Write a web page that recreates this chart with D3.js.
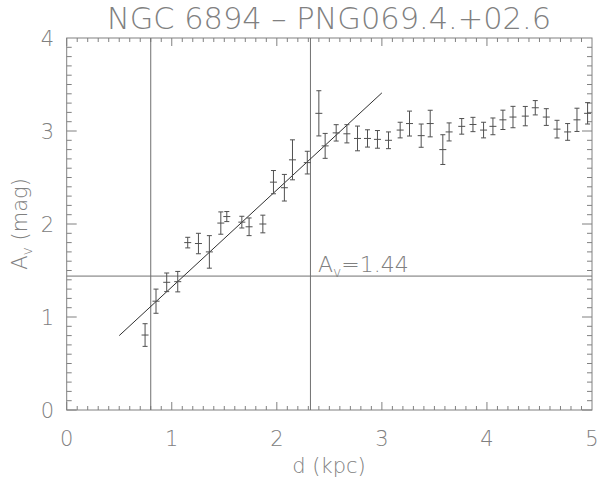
<!DOCTYPE html>
<html><head><meta charset="utf-8">
<script src="https://cdn.jsdelivr.net/npm/d3@7"></script>
<style>body{margin:0;background:#fff}svg{display:block}text{font-family:"DejaVu Sans",sans-serif;font-weight:200;fill:#808080}</style>
</head><body><div id="c"></div>
<script>
const title = "NGC 6894 \u2013 PNG069.4.+02.6";
const dist = [0.746,0.85,0.952,1.057,1.152,1.254,1.358,1.467,1.524,1.667,1.736,1.867,1.968,2.072,2.149,2.29,2.40,2.46,2.565,2.667,2.768,2.863,2.958,3.063,3.174,3.263,3.374,3.46,3.58,3.64,3.76,3.867,3.968,4.057,4.152,4.248,4.365,4.46,4.565,4.667,4.768,4.857,4.958];
const av   = [0.806,1.17,1.373,1.38,1.80,1.79,1.70,2.01,2.08,2.02,1.97,2.00,2.45,2.39,2.69,2.66,3.19,2.84,2.98,2.97,2.92,2.92,2.91,2.90,3.01,3.08,2.95,3.08,2.80,2.99,3.05,3.07,3.01,3.05,3.12,3.15,3.16,3.25,3.15,3.02,2.99,3.12,3.19];
const err  = [0.122,0.13,0.10,0.11,0.057,0.11,0.175,0.12,0.054,0.063,0.095,0.095,0.125,0.143,0.215,0.122,0.243,0.134,0.088,0.098,0.133,0.093,0.095,0.09,0.084,0.134,0.125,0.143,0.16,0.097,0.084,0.077,0.084,0.09,0.104,0.115,0.104,0.077,0.09,0.095,0.09,0.125,0.115];
const fitX = [0.5, 3.0];
const fitY = [0.80, 3.41];
const vLines = [0.8, 2.32];
const hLine = 1.44;
const xTicks = [0,1,2,3,4,5];
const yTicks = [0,1,2,3,4];

const W=600,H=481;
const svg=d3.select("#c").append("svg").attr("width",W).attr("height",H);
const x=d3.scaleLinear().domain([0,5]).range([66.7,592]);
const y=d3.scaleLinear().domain([0,4]).range([410,38]);
const axc="#808080";

// frame
svg.append("rect").attr("x",x(0)).attr("y",y(4)).attr("width",x(5)-x(0)).attr("height",y(0)-y(4))
  .attr("fill","none").attr("stroke",axc).attr("stroke-width",1);

// ticks
const xMinor=d3.range(0,50).map(i=>i/10);
const yMinor=d3.range(0,40).map(i=>i/10);
const tg=svg.append("g").attr("stroke",axc).attr("stroke-width",1);
xMinor.forEach(v=>{
  const L = Math.abs(v-Math.round(v))<1e-6 ? 8 : 4;
  tg.append("line").attr("x1",x(v)).attr("x2",x(v)).attr("y1",y(0)).attr("y2",y(0)-L);
  tg.append("line").attr("x1",x(v)).attr("x2",x(v)).attr("y1",y(4)).attr("y2",y(4)+L);
});
yMinor.forEach(v=>{
  const L = Math.abs(v-Math.round(v))<1e-6 ? 10 : 5;
  tg.append("line").attr("x1",x(0)).attr("x2",x(0)+L).attr("y1",y(v)).attr("y2",y(v));
  tg.append("line").attr("x1",x(5)).attr("x2",x(5)-L).attr("y1",y(v)).attr("y2",y(v));
});

// tick labels
svg.append("g").selectAll("text").data(xTicks).join("text")
  .attr("x",d=>x(d)).attr("y",446).attr("text-anchor","middle").attr("font-size",21).text(d=>d);
svg.append("g").selectAll("text").data(yTicks).join("text")
  .attr("x",54).attr("y",d=>y(d)+7.5).attr("text-anchor","end").attr("font-size",21).text(d=>d);

// title and axis labels
svg.append("text").attr("x",329).attr("y",29).attr("text-anchor","middle").attr("font-size",31)
  .attr("textLength",444).attr("lengthAdjust","spacingAndGlyphs").text(title);
svg.append("text").attr("x",329).attr("y",473).attr("text-anchor","middle").attr("font-size",21).text("d (kpc)");
const yl=svg.append("text").attr("transform","translate(27,224) rotate(-90)").attr("text-anchor","middle").attr("font-size",21);
yl.append("tspan").text("A");
yl.append("tspan").attr("font-size",14).attr("dy",5).text("v");
yl.append("tspan").attr("dy",-5).text(" (mag)");

// reference lines
const rg=svg.append("g").attr("stroke","#707070").attr("stroke-width",1);
vLines.forEach(v=>rg.append("line").attr("x1",x(v)).attr("x2",x(v)).attr("y1",y(0)).attr("y2",y(4)));
rg.append("line").attr("x1",x(0)).attr("x2",x(5)).attr("y1",y(hLine)).attr("y2",y(hLine));

const at=svg.append("text").attr("x",318).attr("y",272).attr("font-size",22);
at.append("tspan").text("A");
at.append("tspan").attr("font-size",14).attr("dy",5).text("v");
at.append("tspan").attr("dy",-5).text("=1.44");

// fit line
svg.append("line").attr("x1",x(fitX[0])).attr("y1",y(fitY[0])).attr("x2",x(fitX[1])).attr("y2",y(fitY[1]))
  .attr("stroke","#303030").attr("stroke-width",1);

// data points with error bars
const pts=dist.map((d,i)=>({d,a:av[i],e:err[i]}));
const pg=svg.append("g").attr("stroke","#505050").attr("stroke-width",1).selectAll("g").data(pts).join("g");
pg.append("line").attr("x1",p=>x(p.d)).attr("x2",p=>x(p.d)).attr("y1",p=>y(p.a-p.e)).attr("y2",p=>y(p.a+p.e));
pg.append("line").attr("x1",p=>x(p.d)-2.5).attr("x2",p=>x(p.d)+2.5).attr("y1",p=>y(p.a-p.e)).attr("y2",p=>y(p.a-p.e));
pg.append("line").attr("x1",p=>x(p.d)-2.5).attr("x2",p=>x(p.d)+2.5).attr("y1",p=>y(p.a+p.e)).attr("y2",p=>y(p.a+p.e));
pg.append("line").attr("x1",p=>x(p.d)-3.5).attr("x2",p=>x(p.d)+3.5).attr("y1",p=>y(p.a)).attr("y2",p=>y(p.a));
</script></body></html>
